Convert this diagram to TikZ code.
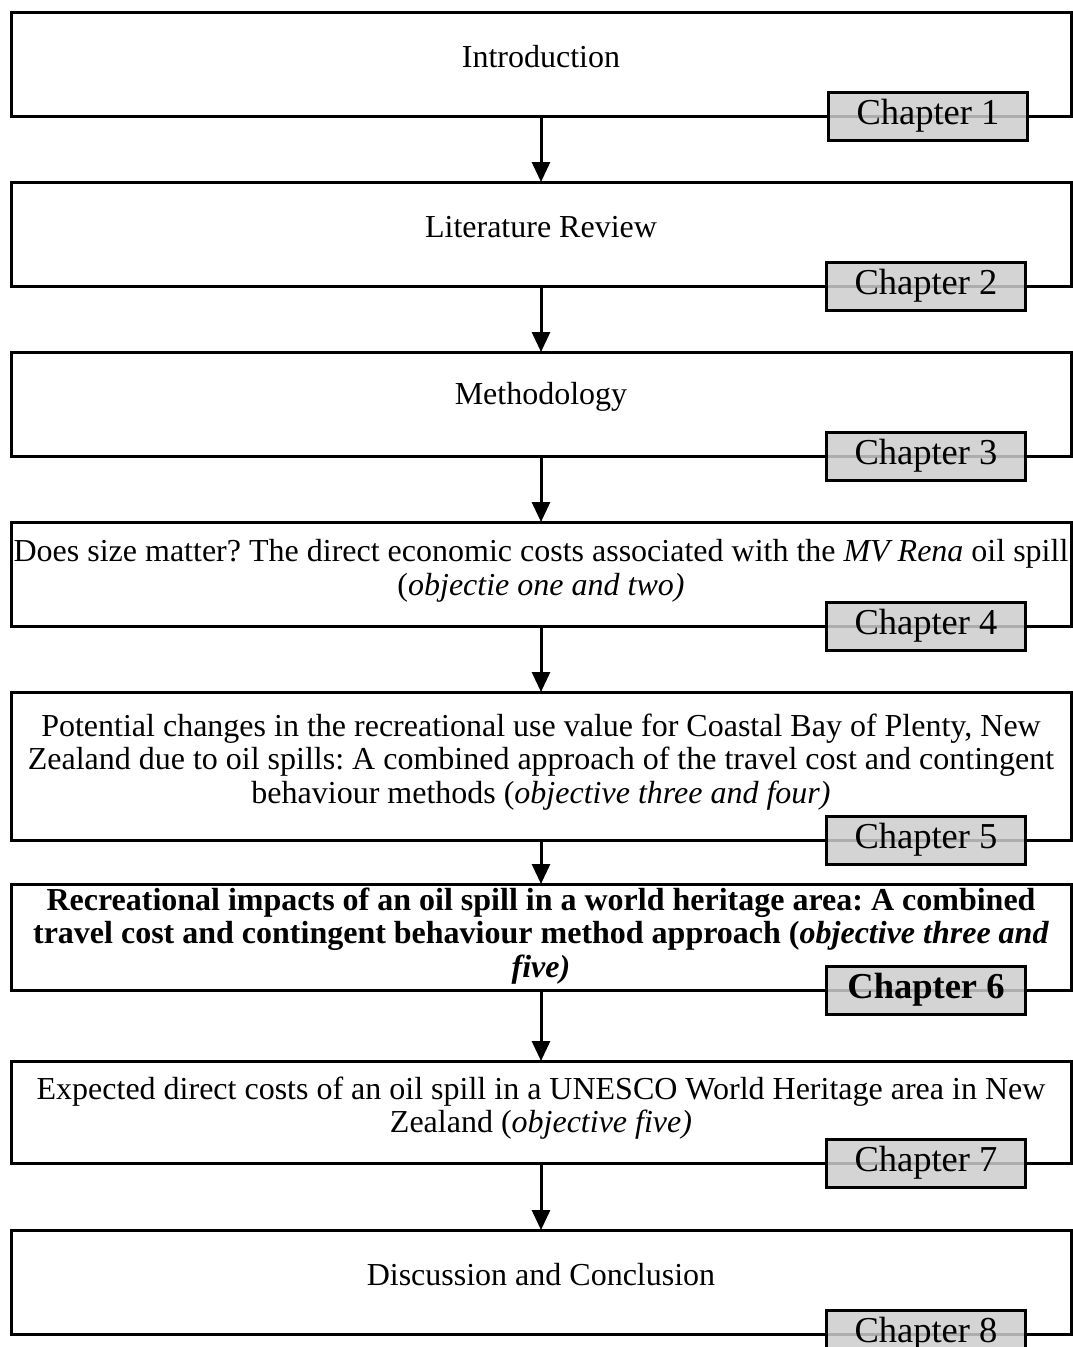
\documentclass[tikz,border=0pt]{standalone}
\usepackage{fontspec}
\setmainfont{Liberation Serif}
\usetikzlibrary{arrows.meta}
\frenchspacing

\begin{document}
\begin{tikzpicture}[x=1pt, y=-1pt,
  box/.style={draw, line width=3pt, rectangle, minimum width=1060pt, inner sep=0pt, outer sep=0pt},
  txt/.style={align=center, inner sep=0pt, font=\fontsize{32}{33.5}\selectfont},
  chap/.style={draw, line width=3pt, rectangle, minimum width=199pt, minimum height=48pt,
    inner sep=0pt, outer sep=0pt, fill=black!20, fill opacity=0.85, text opacity=1,
    font=\fontsize{36.5}{38}\selectfont},
  arr/.style={line width=3pt, -{Triangle[length=20pt, width=18pt]}}]

  \useasboundingbox (0,0) rectangle (1073,1347);

  % outline boxes
  \node[box, minimum height=104pt] (b1) at (541,64)   {};
  \node[box, minimum height=104pt] (b2) at (541,234)  {};
  \node[box, minimum height=104pt] (b3) at (541,404)  {};
  \node[box, minimum height=104pt] (b4) at (541,574)  {};
  \node[box, minimum height=148pt] (b5) at (541,766)  {};
  \node[box, minimum height=106pt] (b6) at (541,937)  {};
  \node[box, minimum height=102pt] (b7) at (541,1112) {};
  \node[box, minimum height=104pt] (b8) at (541,1282) {};

  % chapter titles
  \node[txt] (t1) at (541,57)  {Introduction};
  \node[txt] (t2) at (541,227) {Literature Review};
  \node[txt] (t3) at (541,397) {Methodology};
  \node[txt] (t4) at (541,571) {Does size matter? The direct economic costs associated with the \textit{MV Rena} oil spill\\
    (\textit{objectie one and two)}};
  \node[txt] (t5) at (541,762) {Potential changes in the recreational use value for Coastal Bay of Plenty, New\\
    Zealand due to oil spills: A combined approach of the travel cost and contingent\\
    behaviour methods (\textit{objective three and four)}};
  \node[txt, font=\fontsize{32}{33.5}\selectfont\bfseries] (t6) at (541,936)
    {Recreational impacts of an oil spill in a world heritage area: A combined\\
    travel cost and contingent behaviour method approach (\textit{objective three and}\\
    \textit{five)}};
  \node[txt] (t7) at (541,1108) {Expected direct costs of an oil spill in a UNESCO World Heritage area in New\\
    Zealand (\textit{objective five)}};
  \node[txt] (t8) at (541,1275) {Discussion and Conclusion};

  % chapter labels on the bottom edges
  \node[chap] (c1) at ([xshift=387pt]b1.south) {Chapter 1};
  \node[chap] (c2) at ([xshift=385pt]b2.south) {Chapter 2};
  \node[chap] (c3) at ([xshift=385pt]b3.south) {Chapter 3};
  \node[chap] (c4) at ([xshift=385pt]b4.south) {Chapter 4};
  \node[chap] (c5) at ([xshift=385pt]b5.south) {Chapter 5};
  \node[chap, font=\fontsize{36.5}{38}\selectfont\bfseries] (c6) at ([xshift=385pt]b6.south) {Chapter 6};
  \node[chap] (c7) at ([xshift=385pt]b7.south) {Chapter 7};
  \node[chap] (c8) at ([xshift=385pt]b8.south) {Chapter 8};

  % flow arrows
  \draw[arr] (b1.south) -- (b2.north);
  \draw[arr] (b2.south) -- (b3.north);
  \draw[arr] (b3.south) -- (b4.north);
  \draw[arr] (b4.south) -- (b5.north);
  \draw[arr] (b5.south) -- (b6.north);
  \draw[arr] (b6.south) -- (b7.north);
  \draw[arr] (b7.south) -- (b8.north);
\end{tikzpicture}
\end{document}
